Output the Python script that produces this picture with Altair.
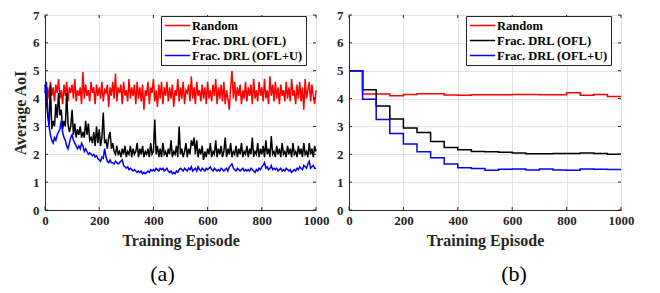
import altair as alt
import pandas as pd

# ---------------- data ----------------
methods = ["Random", "Frac. DRL (OFL)", "Frac. DRL (OFL+U)"]
colors = ["#ff0000", "#000000", "#0000ff"]

# panel (a): per-episode training curves, sampled every 5 episodes
episodes = list(range(0, 1001, 5))

random_aoi = [
    4.0, 3.9, 4.4, 4.0, 4.6, 4.1, 4.4, 3.9, 4.5, 4.2,
    4.7, 4.0, 4.3, 3.8, 4.5, 4.1, 4.6, 3.9, 4.4, 4.2,
    4.5, 4.0, 4.7, 3.9, 4.3, 4.1, 4.4, 3.8, 4.95, 4.0,
    4.5, 4.1, 4.3, 3.9, 4.6, 4.2, 4.4, 3.8, 4.5, 4.1,
    4.4, 4.0, 4.6, 3.9, 4.3, 4.2, 4.5, 3.7, 4.4, 4.1,
    4.6, 4.0, 4.9, 3.9, 4.4, 4.2, 4.5, 3.8, 4.6, 4.1,
    4.3, 3.9, 4.7, 4.0, 4.4, 4.1, 4.5, 3.8, 4.6, 4.0,
    4.4, 3.9, 4.5, 3.6, 4.3, 4.1, 4.6, 3.8, 4.4, 4.2,
    4.7, 3.9, 4.3, 3.7, 4.5, 4.0, 4.6, 3.8, 4.4, 4.1,
    4.6, 3.9, 4.4, 4.0, 4.5, 3.7, 4.3, 4.1, 4.7, 3.9,
    4.4, 4.0, 4.6, 3.8, 4.3, 4.2, 4.5, 3.9, 4.8, 4.0,
    4.4, 3.8, 4.6, 4.1, 4.3, 3.9, 4.5, 4.0, 4.4, 3.8,
    4.6, 4.0, 4.3, 3.9, 4.5, 4.1, 4.7, 3.8, 4.4, 4.0,
    4.5, 3.9, 4.6, 3.8, 4.3, 4.0, 3.6, 4.4, 5.0, 4.0,
    4.6, 3.9, 4.4, 4.1, 4.5, 3.8, 4.3, 4.0, 4.6, 3.9,
    4.4, 4.1, 4.5, 3.8, 4.7, 4.0, 4.3, 3.9, 4.6, 4.1,
    4.4, 3.9, 4.7, 4.0, 4.3, 3.8, 4.8, 4.1, 4.5, 3.9,
    4.6, 4.0, 4.4, 3.8, 4.5, 4.1, 4.3, 3.9, 4.6, 4.0,
    4.4, 3.9, 4.7, 4.1, 4.3, 3.8, 4.5, 4.0, 4.6, 3.9,
    4.4, 3.6, 4.7, 4.0, 4.3, 4.6, 3.9, 4.5, 4.1, 3.8,
    4.3,
]

ofl_aoi = [
    4.5, 3.9, 3.4, 3.0, 4.5, 2.9, 3.2, 3.0, 3.8, 3.3,
    4.2, 3.4, 3.6, 2.9, 3.2, 3.0, 4.2, 3.1, 2.8, 3.0,
    3.6, 2.7, 3.1, 2.6, 2.9, 2.7, 3.0, 2.6, 2.8, 2.6,
    3.2, 2.7, 3.1, 2.5, 2.6, 2.4, 2.8, 2.3, 3.0, 2.4,
    2.9, 2.3, 2.6, 3.5, 2.4, 2.5, 2.2, 2.6, 2.8, 2.2,
    2.4, 2.1, 2.0, 2.3, 2.0, 2.1, 1.9, 2.2, 2.0, 2.3,
    1.9, 2.1, 2.0, 2.3, 1.9, 2.2, 2.0, 2.1, 2.4, 1.9,
    2.2, 2.0, 2.3, 1.9, 2.1, 2.0, 2.2, 1.9, 2.4, 2.0,
    2.1, 3.25, 2.0, 2.3, 1.9, 2.2, 1.9, 2.4, 2.0, 2.1,
    1.9, 2.2, 2.0, 2.5, 1.9, 2.1, 2.0, 2.3, 1.9, 3.0,
    2.0, 2.2, 1.9, 2.1, 2.4, 1.9, 2.2, 2.0, 2.5, 2.3,
    2.6, 2.0, 2.5, 1.9, 2.2, 2.0, 2.3, 1.8, 2.1, 1.9,
    2.2, 2.0, 2.4, 1.9, 2.1, 2.0, 2.5, 1.9, 2.2, 2.0,
    2.3, 1.9, 2.1, 2.6, 1.9, 2.2, 2.0, 2.4, 1.9, 2.1,
    2.0, 2.3, 1.9, 2.2, 2.0, 2.4, 1.9, 2.1, 2.0, 2.3,
    1.9, 2.2, 2.0, 2.6, 1.9, 2.1, 2.0, 2.4, 1.9, 2.2,
    2.0, 2.3, 1.9, 2.5, 2.0, 2.2, 1.9, 2.65, 2.0, 2.1,
    1.9, 2.3, 2.0, 2.2, 1.9, 2.4, 2.0, 2.1, 1.9, 2.3,
    2.0, 2.2, 1.9, 2.4, 2.0, 2.1, 1.9, 2.3, 2.0, 2.2,
    1.9, 2.4, 2.0, 2.1, 1.9, 2.4, 2.0, 2.2, 1.9, 2.3,
    2.1,
]

oflu_aoi = [
    4.2, 4.6, 3.6, 3.0, 2.7, 2.5, 2.4, 2.6, 2.5, 2.7,
    2.8, 2.9, 3.2, 2.8, 2.6, 2.5, 2.3, 2.2, 2.4, 2.6,
    2.7, 2.5, 2.4, 2.3, 2.2, 2.3, 2.2, 2.4, 2.3, 2.1,
    2.2, 2.1, 2.0, 2.05, 2.0, 1.95, 2.0, 1.9, 1.95, 1.85,
    1.8, 1.75, 1.9, 1.85, 2.2, 1.9, 1.75, 1.7, 1.8, 1.7,
    1.7, 1.65, 1.75, 1.7, 1.65, 1.7, 1.75, 1.8, 1.6, 1.55,
    1.5, 1.55, 1.45, 1.5, 1.45, 1.4, 1.45, 1.4, 1.35, 1.4,
    1.35, 1.4, 1.3, 1.35, 1.3, 1.35, 1.4, 1.35, 1.45, 1.4,
    1.45, 1.4, 1.5, 1.45, 1.4, 1.5, 1.45, 1.5, 1.4, 1.45,
    1.5, 1.4, 1.35, 1.4, 1.3, 1.35, 1.3, 1.4, 1.35, 1.45,
    1.5, 1.45, 1.4, 1.5, 1.45, 1.4, 1.5, 1.45, 1.55, 1.4,
    1.45, 1.5, 1.4, 1.55, 1.45, 1.4, 1.5, 1.45, 1.4, 1.5,
    1.45, 1.5, 1.55, 1.45, 1.4, 1.5, 1.45, 1.4, 1.45, 1.4,
    1.5, 1.45, 1.4, 1.45, 1.5, 1.4, 1.55, 1.6, 1.65, 1.5,
    1.45, 1.4, 1.5, 1.45, 1.4, 1.45, 1.5, 1.4, 1.45, 1.4,
    1.45, 1.4, 1.5, 1.45, 1.4, 1.35, 1.45, 1.4, 1.5, 1.45,
    1.55, 1.6, 1.7, 1.5, 1.55, 1.45, 1.5, 1.6, 1.45, 1.5,
    1.45, 1.5, 1.4, 1.45, 1.5, 1.4, 1.45, 1.4, 1.5, 1.45,
    1.4, 1.45, 1.35, 1.4, 1.45, 1.4, 1.5, 1.45, 1.55, 1.5,
    1.45, 1.6, 1.55, 1.5, 1.65, 1.75, 1.5, 1.55, 1.6, 1.5,
    1.5,
]

# panel (b): evaluated every 50 episodes (held constant between evaluations)
step_eps = list(range(0, 1001, 50))
random_step = [5.0, 4.16, 4.16, 4.10, 4.15, 4.17, 4.17, 4.13, 4.12, 4.14, 4.14,
               4.14, 4.15, 4.15, 4.14, 4.14, 4.21, 4.12, 4.15, 4.07, 4.07]
ofl_step = [5.0, 4.32, 3.73, 3.27, 2.94, 2.78, 2.46, 2.24, 2.16, 2.10, 2.09,
            2.07, 2.05, 2.02, 2.02, 2.03, 2.03, 2.05, 2.03, 2.00, 2.00]
oflu_step = [5.0, 3.98, 3.25, 2.75, 2.37, 2.09, 1.88, 1.65, 1.52, 1.49, 1.43,
             1.46, 1.47, 1.44, 1.47, 1.44, 1.43, 1.47, 1.46, 1.45, 1.45]

x_ticks = [0, 200, 400, 600, 800, 1000]
y_ticks = [0, 1, 2, 3, 4, 5, 6, 7]


def long_table(xs, series):
    rows = []
    for m, vals in zip(methods, series):
        for x, v in zip(xs, vals):
            rows.append({"ep": x, "aoi": v, "method": m})
    return pd.DataFrame(rows)


df_a = long_table(episodes, [random_aoi, ofl_aoi, oflu_aoi])
df_b = long_table(step_eps, [random_step, ofl_step, oflu_step])
xt_df = pd.DataFrame({"ep": x_ticks})
yt_df = pd.DataFrame({"aoi": y_ticks})

FONT = "Liberation Serif"
DARK = "#262626"
H = 195
TICK = 3


def panel(df, label, dx, legend_x, y_title, interp, width):
    legend = alt.Legend(
        title=None, orient="none", legendX=legend_x, legendY=1,
        direction="vertical", strokeColor=DARK, fillColor="white",
        padding=3, symbolType="stroke", symbolSize=640, symbolStrokeWidth=1.5,
        clipHeight=13,
        labelFont=FONT, labelFontWeight="bold", labelFontSize=12.5,
        labelColor="#000000", labelOffset=1, rowPadding=2,
    )
    y_kw = dict(values=y_ticks, grid=True, ticks=False, labelPadding=6,
                labelFlush=False, format="d")
    if y_title:
        y_axis = alt.Axis(title=y_title, titlePadding=4, **y_kw)
    else:
        y_axis = alt.Axis(title=None, **y_kw)
    x_axis = alt.Axis(values=x_ticks, grid=True, ticks=False,
                      labelPadding=4, titlePadding=5, labelFlush=False,
                      format="d", title="Training Episode")
    xs = alt.Scale(domain=[0, 1000], nice=False)
    ys = alt.Scale(domain=[0, 7], nice=False)
    lines = alt.Chart(df).mark_line(strokeWidth=1.5, interpolate=interp).encode(
        x=alt.X("ep:Q", scale=xs, axis=x_axis),
        y=alt.Y("aoi:Q", scale=ys, axis=y_axis),
        color=alt.Color("method:N", scale=alt.Scale(domain=methods, range=colors),
                        legend=legend),
    )
    rule = dict(color=DARK, strokeWidth=1)
    t_bottom = alt.Chart(xt_df).mark_rule(**rule).encode(
        x=alt.X("ep:Q", scale=xs, axis=x_axis), y=alt.value(H), y2=alt.value(H - TICK))
    t_top = alt.Chart(xt_df).mark_rule(**rule).encode(
        x=alt.X("ep:Q", scale=xs, axis=x_axis), y=alt.value(0), y2=alt.value(TICK))
    t_left = alt.Chart(yt_df).mark_rule(**rule).encode(
        y=alt.Y("aoi:Q", scale=ys, axis=y_axis), x=alt.value(0), x2=alt.value(TICK))
    t_right = alt.Chart(yt_df).mark_rule(**rule).encode(
        y=alt.Y("aoi:Q", scale=ys, axis=y_axis), x=alt.value(width - TICK),
        x2=alt.value(width))
    return alt.layer(lines, t_bottom, t_top, t_left, t_right).properties(
        width=width, height=H,
        title=alt.TitleParams(label, orient="bottom", frame="group", anchor="middle",
                              dx=dx, offset=16, font=FONT, fontSize=22,
                              fontWeight="normal", color="#000000"),
    )


left = panel(df_a, "(a)", -18, 116, "Average AoI", "linear", 271)
right = panel(df_b, "(b)", 29, 117, None, "step-after", 272)

chart = alt.hconcat(left, right, spacing=33, bounds="flush").resolve_legend(
    color="independent"
).resolve_scale(color="independent").properties(
    padding={"left": 4, "top": 0, "right": 5, "bottom": 2}
).configure_view(
    stroke=DARK, strokeWidth=1
).configure_axis(
    labelFont=FONT, labelFontWeight="bold", labelFontSize=13, labelColor=DARK,
    titleFont=FONT, titleFontWeight="bold", titleFontSize=16, titleColor=DARK,
    domainColor=DARK, domainWidth=1, gridColor="#e3e3e3", gridWidth=1,
)

chart.save("out.html", embed_options={"renderer": "svg", "actions": False})
